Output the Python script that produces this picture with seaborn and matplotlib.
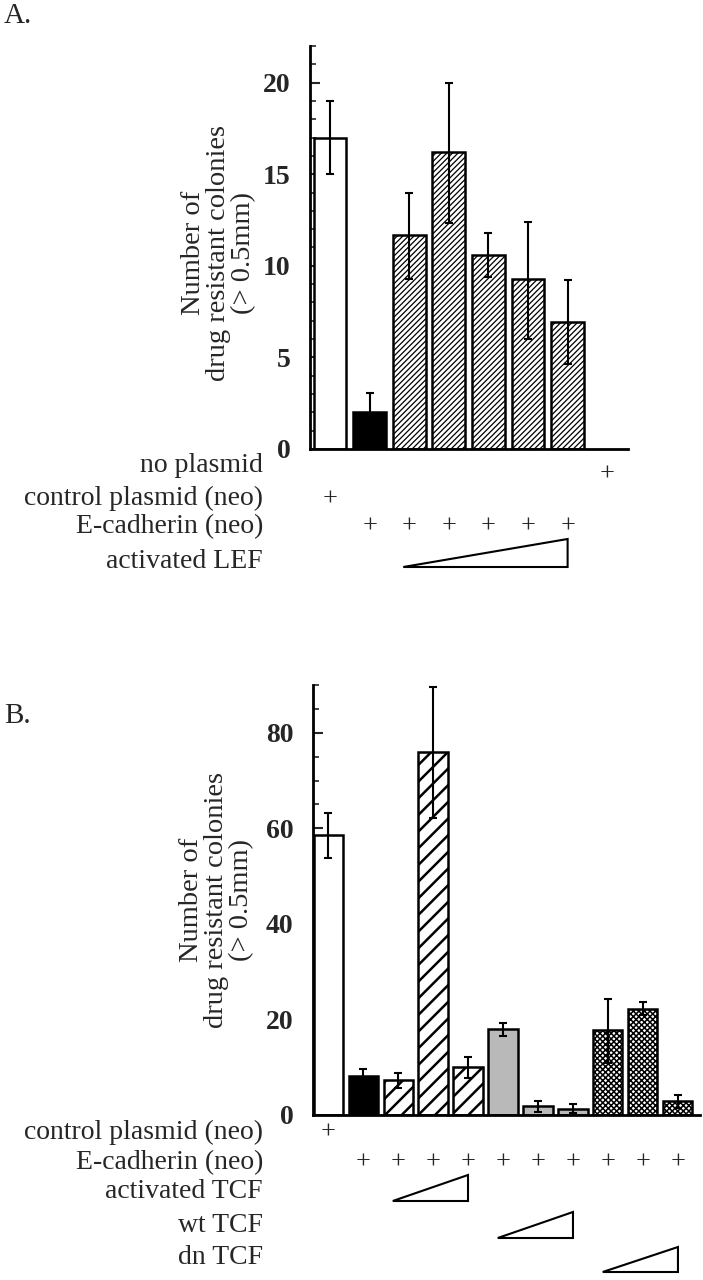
import numpy as np
import pandas as pd
import matplotlib
matplotlib.use("Agg")
import matplotlib.pyplot as plt
import matplotlib.transforms as mtransforms
from matplotlib.patches import Polygon
from matplotlib.ticker import MultipleLocator
import seaborn as sns

# ---- data: panel A (LEF) ----
a_groups = ["control", "E-cad", "E-cad+LEF1", "E-cad+LEF2", "E-cad+LEF3", "E-cad+LEF4", "E-cad+LEF5"]
a_values = [17.0, 2.0, 11.7, 16.2, 10.6, 9.3, 6.95]
a_err_up = [2.0, 1.05, 2.3, 3.8, 1.2, 3.1, 2.3]
a_err_dn = [2.0, 1.0, 2.4, 3.85, 1.2, 3.3, 2.3]
a_rows = ["no plasmid", "control plasmid (neo)", "E-cadherin (neo)", "activated LEF"]
a_no_plasmid = [7]
a_control = [0]
a_ecad = [1, 2, 3, 4, 5, 6]

# ---- data: panel B (TCF) ----
b_groups = ["control", "E-cad", "aTCF1", "aTCF2", "aTCF3", "wtTCF1", "wtTCF2", "wtTCF3",
            "dnTCF1", "dnTCF2", "dnTCF3"]
b_values = [58.6, 8.2, 7.3, 76.0, 10.0, 17.9, 1.9, 1.2, 17.8, 22.2, 3.0]
b_err_up = [4.7, 1.5, 1.4, 13.5, 2.1, 1.3, 1.1, 1.0, 6.5, 1.5, 1.2]
b_err_dn = [4.8, 1.5, 1.7, 13.9, 2.3, 1.4, 1.3, 0.7, 7.0, 1.3, 1.6]
b_rows = ["control plasmid (neo)", "E-cadherin (neo)", "activated TCF", "wt TCF", "dn TCF"]
b_control = [0]
b_ecad = [1, 2, 3, 4, 5, 6, 7, 8, 9, 10]

sns.set_style("white")
plt.rcParams["font.family"] = ["Liberation Serif", "DejaVu Serif"]

W, H = 703, 1280
fig = plt.figure(figsize=(7.03, 12.80), dpi=100)


def fx(px):
    return px / W


def fy(py):
    return 1 - py / H


def draw_bars(ax, groups, values, up, dn, styles, width):
    df = pd.DataFrame({"group": groups, "value": values})
    pal = {g: s[0] for g, s in zip(groups, styles)}
    sns.barplot(data=df, x="group", y="value", hue="group", palette=pal,
                order=groups, hue_order=groups, width=width, edgecolor="black",
                linewidth=1.8, saturation=1, legend=False, ax=ax)
    bars = sorted(ax.patches, key=lambda p: p.get_x())
    for p, (_, hatch, hlw) in zip(bars, styles):
        if hatch:
            p.set_hatch(hatch)
            if hasattr(p, "set_hatch_linewidth"):
                p.set_hatch_linewidth(hlw)
    ax.errorbar(np.arange(len(values)), values, yerr=[dn, up], fmt="none",
                ecolor="black", elinewidth=1.5, capsize=3, capthick=1.5, zorder=5)


def style_axis(ax, major, minor, top):
    ax.set_ylim(0, top)
    ax.yaxis.set_major_locator(MultipleLocator(major))
    ax.yaxis.set_minor_locator(MultipleLocator(minor))
    ax.tick_params(axis="y", which="major", direction="in", length=7, width=1.5,
                   labelsize=20, pad=14, left=True)
    ax.tick_params(axis="y", which="minor", direction="in", length=4, width=1.2, left=True)
    ax.tick_params(axis="x", bottom=False, labelbottom=False)
    for lab in ax.get_yticklabels():
        lab.set_fontweight("bold")
    for s in ["top", "right"]:
        ax.spines[s].set_visible(False)
    for s in ["left", "bottom"]:
        ax.spines[s].set_linewidth(2)
        ax.spines[s].set_color("black")
    ax.set_xlabel("")
    ax.set_ylabel("")
    ax.set_facecolor("white")


ylabel = "Number of\ndrug resistant colonies\n(> 0.5mm)"
PLUS = 19
ROWFS = 20

# ---------------- panel A ----------------
axA = fig.add_axes([fx(310), fy(449), fx(628 - 310), (449 - 46) / H])
a_styles = [("white", None, 0), ("black", None, 0)] + [("white", "//////", 0.9)] * 5
draw_bars(axA, a_groups, a_values, a_err_up, a_err_dn, a_styles, 0.83)
axA.set_xlim(-0.505, 7.525)
style_axis(axA, 5, 1, 22)
fig.text(fx(219), fy(253), ylabel, rotation=90, ha="center", va="center",
         fontsize=20.5, linespacing=1.0)
fig.text(fx(4), fy(16), "A.", fontsize=21, ha="left", va="center")

tA = mtransforms.blended_transform_factory(axA.transData, fig.transFigure)
a_row_y = [465, 498, 527, 562]
for name, py in zip(a_rows, a_row_y):
    fig.text(fx(263), fy(py), name, ha="right", va="center", fontsize=ROWFS)
for i in a_no_plasmid:
    fig.text(i, fy(475), "+", transform=tA, ha="center", va="center", fontsize=PLUS)
for i in a_control:
    fig.text(i, fy(500), "+", transform=tA, ha="center", va="center", fontsize=PLUS)
for i in a_ecad:
    fig.text(i, fy(527), "+", transform=tA, ha="center", va="center", fontsize=PLUS)
fig.add_artist(Polygon([[1.85, fy(567)], [6.0, fy(539)], [6.0, fy(567)]], closed=True,
                       fill=False, edgecolor="black", linewidth=1.5, transform=tA,
                       clip_on=False))

# ---------------- panel B ----------------
axB = fig.add_axes([fx(313), fy(1115), fx(700 - 313), (1115 - 685) / H])
b_styles = ([("white", None, 0), ("black", None, 0)]
            + [("white", "//", 1.8)] * 3
            + [("#b9b9b9", None, 0)] * 3
            + [("white", "xxxxxx", 1.1)] * 3)
draw_bars(axB, b_groups, b_values, b_err_up, b_err_dn, b_styles, 0.83)
axB.set_xlim(-0.43, 10.63)
style_axis(axB, 20, 5, 90)
fig.text(fx(217), fy(900), ylabel, rotation=90, ha="center", va="center",
         fontsize=20.5, linespacing=1.0)
fig.text(fx(4), fy(716), "B.", fontsize=21, ha="left", va="center")

tB = mtransforms.blended_transform_factory(axB.transData, fig.transFigure)
b_row_y = [1132, 1163, 1191, 1225, 1257]
for name, py in zip(b_rows, b_row_y):
    fig.text(fx(263), fy(py), name, ha="right", va="center", fontsize=ROWFS)
for i in b_control:
    fig.text(i, fy(1133), "+", transform=tB, ha="center", va="center", fontsize=PLUS)
for i in b_ecad:
    fig.text(i, fy(1163), "+", transform=tB, ha="center", va="center", fontsize=PLUS)
for x0, x1, yb, yt in [(1.85, 4.0, 1201, 1175), (4.85, 7.0, 1238, 1212), (7.85, 10.0, 1272, 1247)]:
    fig.add_artist(Polygon([[x0, fy(yb)], [x1, fy(yt)], [x1, fy(yb)]], closed=True,
                           fill=False, edgecolor="black", linewidth=1.5, transform=tB,
                           clip_on=False))

fig.savefig("out.png", dpi=100, facecolor="white")
